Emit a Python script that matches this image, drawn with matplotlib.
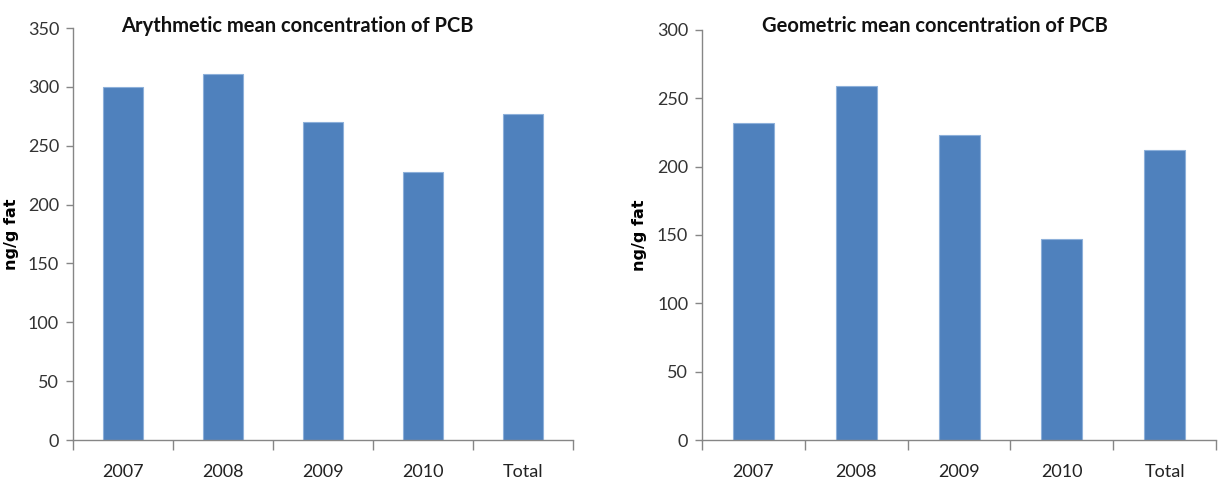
import matplotlib
matplotlib.use("Agg")
import matplotlib.pyplot as plt

# PCB concentrations in ng/g fat per sampling year
years = ["2007", "2008", "2009", "2010", "Total"]
arith_mean = [300, 311, 270, 228, 277]
geom_mean = [232, 259, 223, 147, 212]

bar_color = "#4F81BD"
edge_color = "#8DB0DA"
axis_color = "#868686"
font = ["Lato", "DejaVu Sans"]

fig = plt.figure(figsize=(12.21, 4.79), dpi=100)
ax1 = fig.add_axes([0.0598, 0.0814, 0.4094, 0.8601])
ax2 = fig.add_axes([0.5750, 0.0814, 0.4210, 0.8560])


def draw_panel(ax, values, title, title_x, ymax, step):
    x = range(len(years))
    ax.bar(x, values, width=0.4, color=bar_color, edgecolor=edge_color, linewidth=0.8)
    ax.set_xlim(-0.5, len(years) - 0.5)
    ax.set_ylim(0, ymax)
    ticks = list(range(0, ymax + 1, step))
    ax.set_yticks(ticks)
    ax.set_yticklabels([str(v) for v in ticks], family=font, fontsize=13, color="#333333")

    # category labels sit between the boundary ticks
    ax.set_xticks([i - 0.5 for i in range(len(years) + 1)])
    ax.set_xticklabels([])
    ax.set_xticks(list(x), minor=True)
    ax.set_xticklabels(years, minor=True, family=font, fontsize=13, color="#222222")
    ax.tick_params(axis="x", which="major", length=7, color=axis_color, width=1)
    ax.tick_params(axis="x", which="minor", length=0, pad=17)
    ax.tick_params(axis="y", length=5, color=axis_color, width=1, pad=5)

    for side in ("top", "right"):
        ax.spines[side].set_visible(False)
    for side in ("left", "bottom"):
        ax.spines[side].set_color(axis_color)
        ax.spines[side].set_linewidth(1)

    ax.set_ylabel("ng/g fat", fontsize=11.5, fontweight="bold", family="DejaVu Sans")
    ax.yaxis.set_label_coords(-0.108, 0.5)
    fig.text(title_x, 1 - 26 / 479, title, family=font, fontsize=14.5, fontweight="bold",
             ha="center", va="center", color="#111111")


draw_panel(ax1, arith_mean, "Arythmetic mean concentration of PCB", 297 / 1221, 350, 50)
draw_panel(ax2, geom_mean, "Geometric mean concentration of PCB", 935 / 1221, 300, 50)

fig.savefig("out.png", dpi=100)
